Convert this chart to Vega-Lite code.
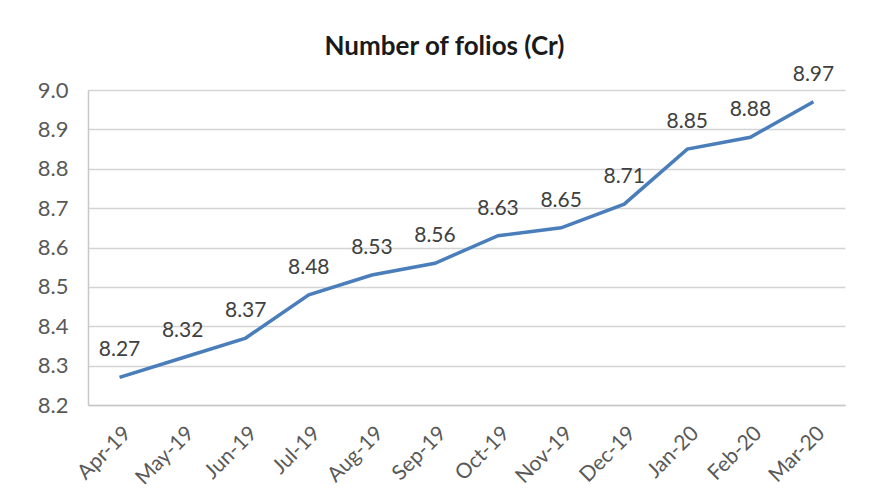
{
  "$schema": "https://vega.github.io/schema/vega-lite/v6.json",
  "width": 757,
  "height": 315,
  "autosize": {"type": "none"},
  "padding": {"left": 88, "top": 90, "right": 29, "bottom": 91},
  "background": "white",
  "title": {"text": "Number of folios (Cr)", "font": "Lato", "fontSize": 26, "fontWeight": "bold", "color": "#1a1a1a", "anchor": "middle", "offset": 4, "dx": -22},
  "config": {"view": {"stroke": null}},
  "data": {"values": [
    {"month": "Apr-19", "folios": 8.27},
    {"month": "May-19", "folios": 8.32},
    {"month": "Jun-19", "folios": 8.37},
    {"month": "Jul-19", "folios": 8.48},
    {"month": "Aug-19", "folios": 8.53},
    {"month": "Sep-19", "folios": 8.56},
    {"month": "Oct-19", "folios": 8.63},
    {"month": "Nov-19", "folios": 8.65},
    {"month": "Dec-19", "folios": 8.71},
    {"month": "Jan-20", "folios": 8.85},
    {"month": "Feb-20", "folios": 8.88},
    {"month": "Mar-20", "folios": 8.97}
  ]},
  "encoding": {
    "x": {"field": "month", "type": "ordinal", "sort": null, "scale": {"type": "point", "padding": 0.5},
      "axis": {"title": null, "labelAngle": -45, "labelFont": "Lato", "labelFontSize": 21, "labelColor": "#595959", "ticks": false, "domainColor": "#c8c8c8", "domainWidth": 1.5, "labelPadding": 17, "grid": false, "labelOverlap": false}},
    "y": {"field": "folios", "type": "quantitative", "scale": {"domain": [8.2, 9.0], "zero": false, "nice": false},
      "axis": {"title": null, "values": [8.2, 8.3, 8.4, 8.5, 8.6, 8.7, 8.8, 8.9, 9.0], "format": ".1f", "labelFont": "Lato", "labelFontSize": 22, "labelColor": "#595959", "labelOverlap": false, "ticks": false, "domain": true, "domainColor": "#c8c8c8", "domainWidth": 1.5, "gridColor": "#d4d4d4", "gridWidth": 1.5, "labelPadding": 20}}
  },
  "layer": [
    {"mark": {"type": "line", "color": "#4a7ebb", "strokeWidth": 3.5}},
    {"mark": {"type": "text", "baseline": "bottom", "dy": -17, "font": "Lato", "fontSize": 21, "color": "#404040"},
      "encoding": {"text": {"field": "folios", "type": "quantitative", "format": ".2f"}}}
  ]
}
